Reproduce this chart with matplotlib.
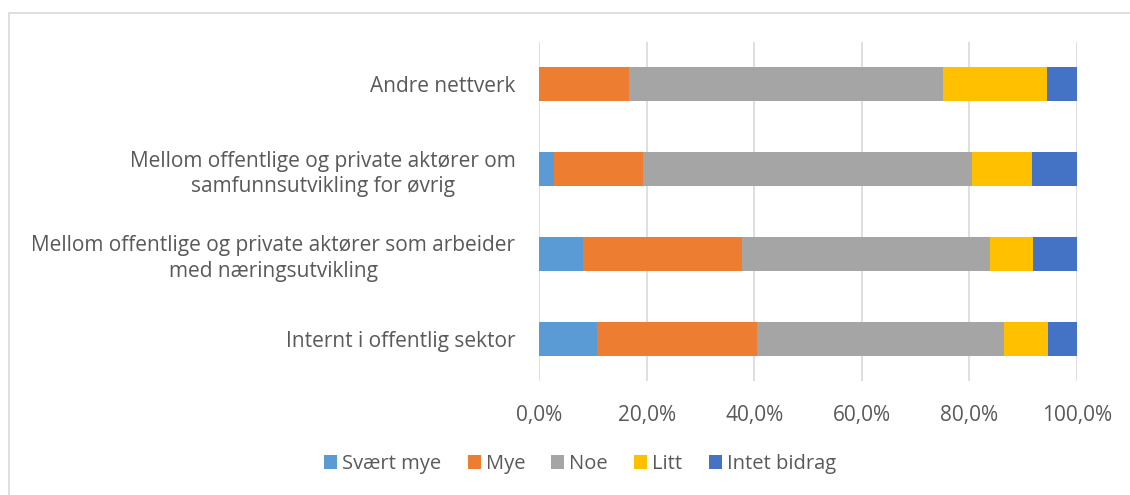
import matplotlib
matplotlib.use("Agg")
import matplotlib.pyplot as plt
from matplotlib.patches import Rectangle
import numpy as np

plt.rcParams["font.family"] = ["Open Sans", "DejaVu Sans"]

categories = [
    "Internt i offentlig sektor",
    "Mellom offentlige og private aktører som arbeider\nmed næringsutvikling",
    "Mellom offentlige og private aktører om\nsamfunnsutvikling for øvrig",
    "Andre nettverk",
]
series_names = ["Svært mye", "Mye", "Noe", "Litt", "Intet bidrag"]
svaert_mye = [10.8, 8.1, 2.8, 0.0]
mye = [29.8, 29.7, 16.6, 16.7]
noe = [45.9, 46.0, 61.1, 58.3]
litt = [8.1, 8.1, 11.2, 19.5]
intet = [5.4, 8.1, 8.3, 5.5]
colors = ["#5b9bd5", "#ed7d31", "#a5a5a5", "#ffc000", "#4472c4"]
x_ticks = [0, 20, 40, 60, 80, 100]
tick_labels = ["0,0%", "20,0%", "40,0%", "60,0%", "80,0%", "100,0%"]

text_color = "#595959"
grid_color = "#d9d9d9"
fs = 15

fig = plt.figure(figsize=(11.3, 4.95), dpi=100)
ax = fig.add_axes([539 / 1130, 1 - 381 / 495, (1077 - 539) / 1130, (381 - 42) / 495])

y = np.arange(len(categories))
left = np.zeros(len(categories))
for name, vals, c in zip(series_names, [svaert_mye, mye, noe, litt, intet], colors):
    vals = np.array(vals)
    ax.barh(y, vals, left=left, height=0.4, color=c, label=name, zorder=3)
    left += vals

ax.set_xlim(0, 100)
ax.set_ylim(-0.5, len(categories) - 0.5)
ax.set_xticks(x_ticks)
ax.set_xticklabels(tick_labels)
ax.set_yticks(y)
ax.set_yticklabels(categories, ha="right", multialignment="center", linespacing=1.3)
ax.tick_params(axis="y", length=0, pad=17, labelsize=fs, labelcolor=text_color)
ax.tick_params(axis="x", length=0, pad=17, labelsize=fs, labelcolor=text_color)
ax.grid(axis="x", color=grid_color, linewidth=1.2, zorder=0)
for s in ax.spines.values():
    s.set_visible(False)

leg = fig.legend(loc="center", bbox_to_anchor=(580 / 1130, 1 - 464 / 495), ncol=5,
                 frameon=False, fontsize=14.5, handlelength=0.65, handleheight=0.65,
                 handletextpad=0.25, columnspacing=1.3)
for t in leg.get_texts():
    t.set_color(text_color)

# chart border
fig.patches.append(Rectangle((8.5 / 1130, -0.1), 1.2, 1 - 13 / 495 + 0.1,
                             transform=fig.transFigure, fill=False,
                             edgecolor=grid_color, linewidth=1.2))

fig.savefig("out.png", dpi=100)
